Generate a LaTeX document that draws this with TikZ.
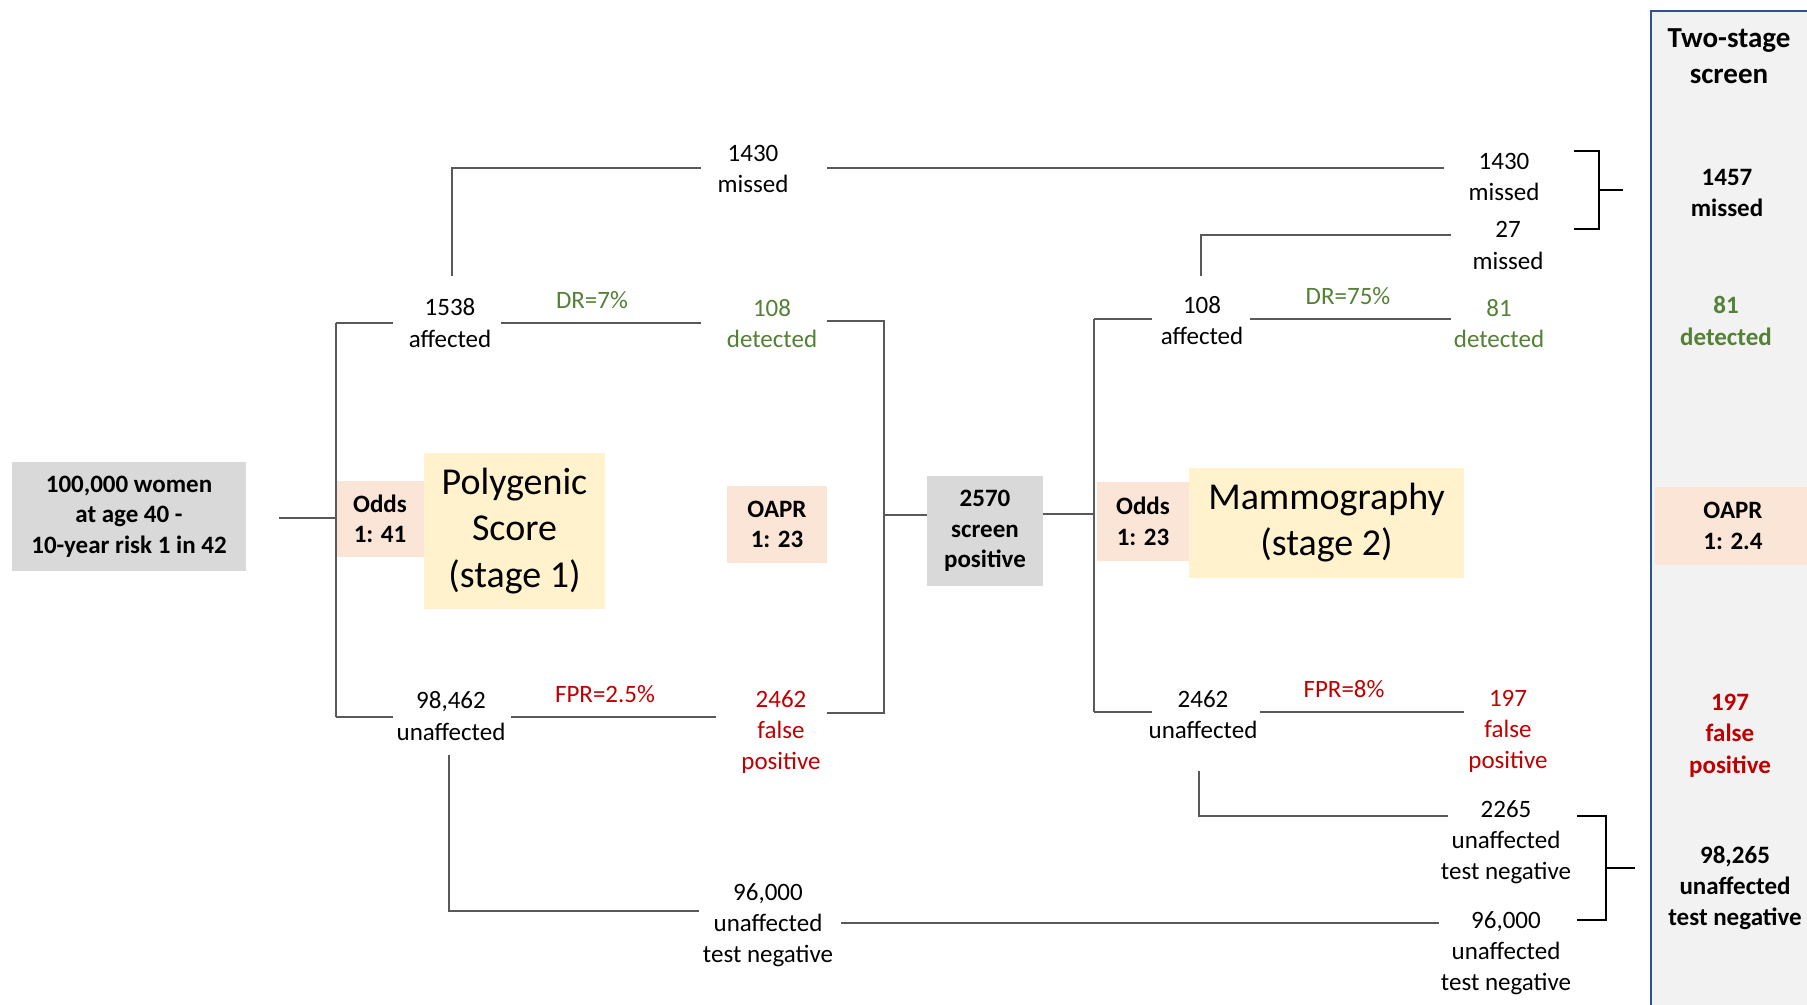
\documentclass[tikz,border=0pt]{standalone}
\usepackage{fontspec}
\setmainfont{Carlito}
\definecolor{grayfill}{HTML}{D9D9D9}
\definecolor{peach}{HTML}{FBE5D6}
\definecolor{yel}{HTML}{FFF2CC}
\definecolor{grn}{HTML}{538135}
\definecolor{rd}{HTML}{C00000}
\definecolor{colfill}{HTML}{F2F2F2}
\definecolor{colblue}{HTML}{2F528F}
\definecolor{ln}{HTML}{595959}
\begin{document}
\begin{tikzpicture}[x=1pt,y=-1pt,
  lbl/.style={align=center, inner sep=0pt, font=\fontsize{25}{31.3}\selectfont},
  blbl/.style={align=center, inner sep=0pt, font=\fontsize{25}{31.3}\selectfont\bfseries},
  hdr/.style={align=center, inner sep=0pt, font=\fontsize{29}{36}\selectfont\bfseries},
  big/.style={align=center, inner sep=0pt, font=\fontsize{38}{46.5}\selectfont},
  tbox/.style={inner sep=0pt, align=center, font=\fontsize{25}{30.5}\selectfont\bfseries},
  conn/.style={draw=ln, line width=1.6pt},
  brk/.style={draw=black, line width=1.4pt}]
\useasboundingbox (0,0) rectangle (1807,1004);
\clip (0,0) rectangle (1807,1004);
\fill[white] (0,0) rectangle (1807,1004);

% right column
\draw[fill=colfill, draw=colblue, line width=2pt] (1651,11) rectangle (1860,1060);
\node[tbox, fill=peach, minimum width=170, minimum height=78, anchor=north west] (oaprR) at (1655,487) {};
\node[blbl] (oaprRt) at (1733,526) {OAPR\\1: 2.4};
\node[hdr] (head) at (1729,56) {Two-stage\\screen};
\node[blbl] (r1457) at (1727,193) {1457\\missed};
\node[blbl, text=grn] (r81) at (1726,321) {81\\detected};
\node[blbl, text=rd] (r197) at (1730,735.5) {197\\false\\positive};
\node[blbl] (r98265) at (1735,888) {98,265\\unaffected\\test negative};

% boxes
\node[tbox, fill=grayfill, minimum width=234, minimum height=109] (women) at (129,516.5) {100,000 women\\at age 40 -\\10-year risk 1 in 42};
\node[tbox, fill=peach, minimum width=88, minimum height=76] (odds1) at (380,519) {Odds\\1: 41};
\node[big, fill=yel, minimum width=181, minimum height=156] (poly) at (514.5,531) {Polygenic\\Score\\(stage 1)};
\node[tbox, fill=peach, minimum width=100, minimum height=77] (oapr1) at (777,524.5) {OAPR\\1: 23};
\node[tbox, fill=grayfill, minimum width=116, minimum height=110] (pos) at (985,531) {2570\\screen\\positive};
\node[tbox, fill=peach, minimum width=92, minimum height=79] (odds2) at (1143,521.5) {Odds\\1: 23};
\node[big, fill=yel, minimum width=275, minimum height=110] (mammo) at (1326.5,522.5) {Mammography\\(stage 2)};

% stage 1 labels
\node[lbl] (m1430a) at (753,169) {1430\\missed};
\node[lbl] (aff1538) at (450,323) {1538\\affected};
\node[lbl, text=grn] (det108) at (772,323.5) {108\\detected};
\node[lbl, text=grn] (dr7) at (592,300) {DR=7\%};
\node[lbl] (un98) at (451,716) {98,462\\unaffected};
\node[lbl, text=rd] (fpr25) at (605,694) {FPR=2.5\%};
\node[lbl, text=rd] (fp2462) at (781,732) {2462\\false\\positive};
\node[lbl] (neg96a) at (768,925) {96,000\\unaffected\\test negative};

% stage 2 labels
\node[lbl] (aff108) at (1202,320.5) {108\\affected};
\node[lbl, text=grn] (dr75) at (1348,296) {DR=75\%};
\node[lbl, text=grn] (det81) at (1499,323.5) {81\\detected};
\node[lbl] (un2462) at (1203,714.5) {2462\\unaffected};
\node[lbl, text=rd] (fpr8) at (1344,689) {FPR=8\%};
\node[lbl, text=rd] (fp197) at (1508,731.5) {197\\false\\positive};
\node[lbl] (m1430b) at (1504,177) {1430\\missed};
\node[lbl] (m27) at (1508,245.5) {27\\missed};
\node[lbl] (neg2265) at (1506,842) {2265\\unaffected\\test negative};
\node[lbl] (neg96b) at (1506,953) {96,000\\unaffected\\test negative};

% stage 1 connectors
\coordinate (s1) at (279,518);
\coordinate (t1) at (336,323);
\coordinate (b1) at (336,717);
\draw[conn] (s1) -- (336,518);
\draw[conn] (t1) -- (b1);
\draw[conn] (t1) -- (393,323);
\draw[conn] (501,323) -- (701,323);
\draw[conn] (b1) -- (393,717);
\draw[conn] (511,717) -- (716,717);
\draw[conn] (827,321) -- (884,321) -- (884,713) -- (827,713);
\draw[conn] (884,515) -- (pos.west |- 0,515);
\draw[conn] (452,276) -- (452,168) -- (701,168);
\draw[conn] (827,168) -- (1444,168);
\draw[conn] (449,755) -- (449,911) -- (699,911);
\draw[conn] (841,923) -- (1439,923);

% stage 2 connectors
\draw[conn] (pos.east |- 0,514) -- (1094,514);
\draw[conn] (1094,319) -- (1094,712);
\draw[conn] (1094,319) -- (1152,319);
\draw[conn] (1250,319) -- (1451,319);
\draw[conn] (1201,276) -- (1201,235) -- (1451,235);
\draw[conn] (1094,712) -- (1152,712);
\draw[conn] (1260,712) -- (1464,712);
\draw[conn] (1199,771) -- (1199,816) -- (1448,816);

% brackets
\draw[brk] (1574,151) -- (1599,151) -- (1599,229) -- (1574,229);
\draw[brk] (1599,190) -- (1623,190);
\draw[brk] (1577,816) -- (1606,816) -- (1606,920) -- (1577,920);
\draw[brk] (1606,868) -- (1635,868);
\end{tikzpicture}
\end{document}
